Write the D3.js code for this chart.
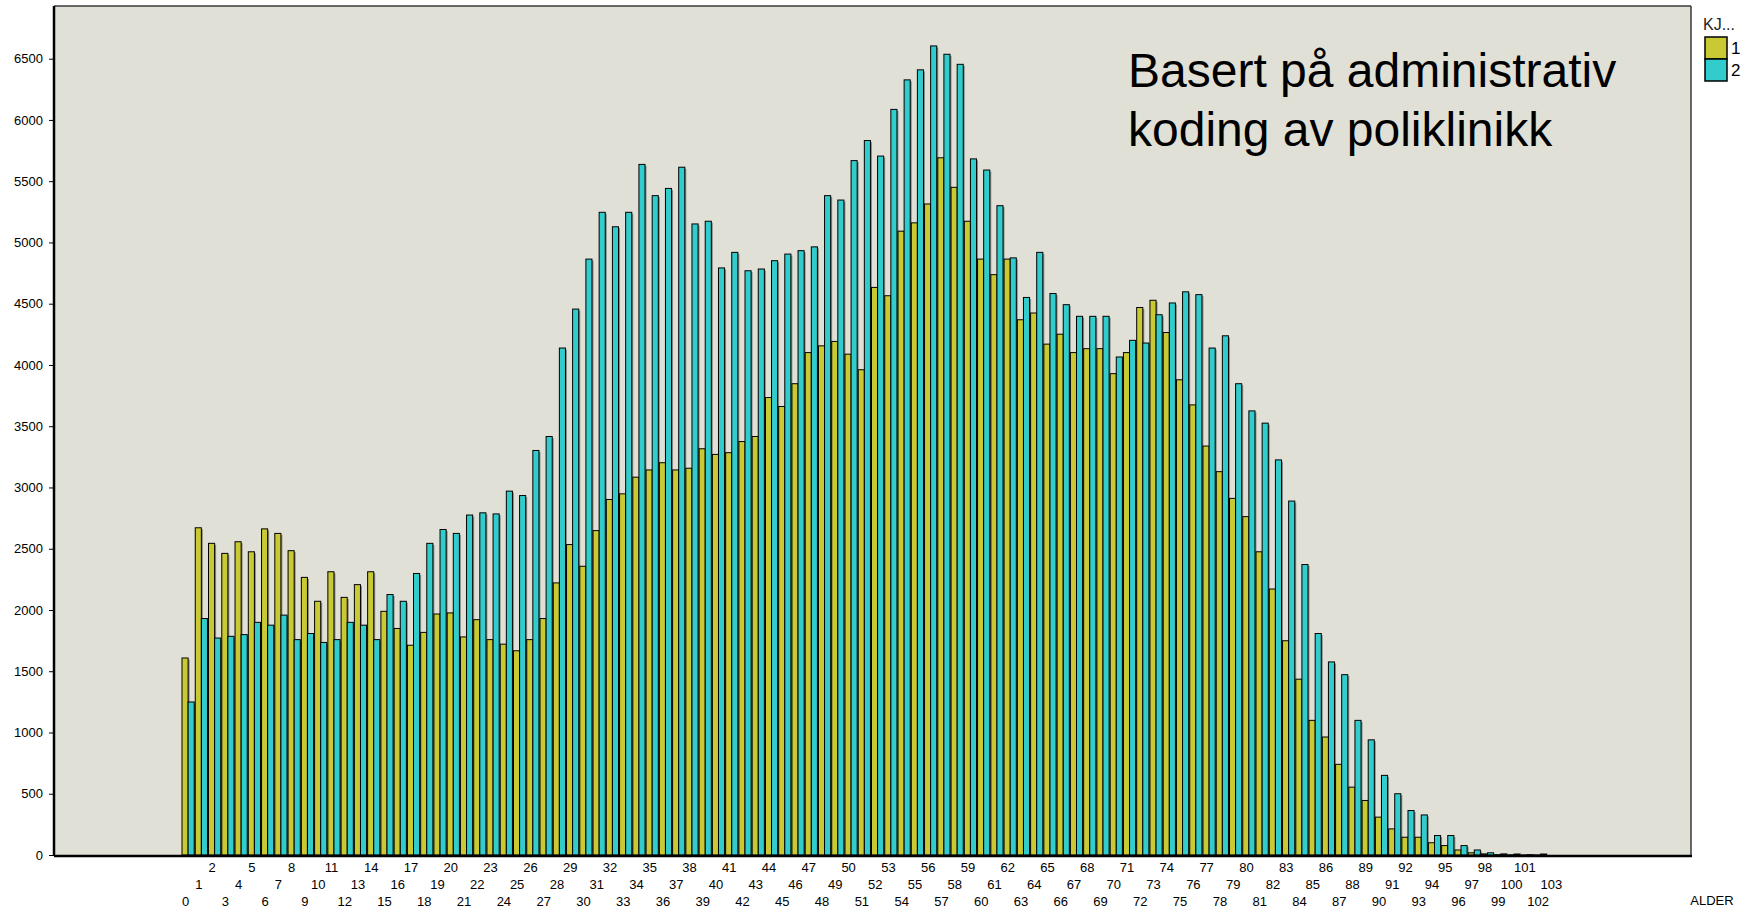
<!DOCTYPE html>
<html>
<head>
<meta charset="utf-8">
<script src="https://cdn.jsdelivr.net/npm/d3@7"></script>
<style>
  html, body { margin: 0; padding: 0; background: #ffffff; }
  svg { display: block; }
  text { font-family: "Liberation Sans", Arial, sans-serif; }
</style>
</head>
<body>
<svg id="chart" width="1751" height="910"></svg>
<script>
// ---- data ----
const ages = d3.range(0, 104);
const seriesNames = ["1", "2"];
const legendTitle = "KJ...";
const xAxisTitle = "ALDER";
const noteLines = ["Basert på administrativ", "koding av poliklinikk"];
const yTicks = [0, 500, 1000, 1500, 2000, 2500, 3000, 3500, 4000, 4500, 5000, 5500, 6000, 6500];
const kj1 = [1608,2671,2544,2462,2557,2475,2662,2625,2484,2266,2071,2312,2103,2207,2312,1989,1849,1712,1817,1967,
  1976,1780,1921,1758,1721,1667,1758,1930,2221,2534,2357,2648,2902,2948,3084,3143,3202,3143,3157,3316,
  3270,3284,3375,3416,3734,3661,3847,4101,4156,4192,4088,3961,4633,4565,5092,5160,5314,5691,5450,5173,
  4864,4737,4864,4369,4424,4170,4251,4101,4133,4133,3929,4101,4469,4528,4265,3879,3674,3338,3129,2911,
  2762,2475,2171,1749,1435,1099,963,740,554,445,309,213,145,145,100,77,41,18,9,3,
  2,1,1,0];
const kj2 = [1249,1930,1771,1785,1799,1899,1876,1958,1758,1808,1735,1758,1899,1876,1758,2126,2071,2298,2544,2657,
  2625,2775,2793,2784,2970,2934,3302,3416,4138,4456,4864,5246,5128,5246,5637,5382,5441,5614,5151,5173,
  4792,4919,4769,4783,4851,4905,4933,4964,5382,5346,5668,5832,5705,6086,6327,6409,6604,6536,6454,5682,
  5591,5300,4874,4551,4919,4583,4492,4397,4397,4397,4065,4201,4179,4410,4506,4597,4574,4138,4238,3847,
  3625,3525,3225,2889,2371,1808,1576,1472,1099,940,650,500,363,327,159,159,77,41,18,9,
  8,3,8,0];
const colors = ["#c9c934", "#33cccc"];

// ---- layout ----
const svg = d3.select("#chart");
const plot = { left: 54, right: 1691, top: 6, bottom: 855 };

const x = d3.scaleBand().domain(ages).range([182, 1561]).paddingInner(0).paddingOuter(0);
const bw = x.bandwidth();
const xs = d3.scaleBand().domain(seriesNames).range([0, bw * 0.92]);
const y = d3.scaleLinear().domain([0, 6930]).range([plot.bottom, plot.top]);

// plot background
svg.append("rect")
  .attr("x", plot.left).attr("y", plot.top)
  .attr("width", plot.right - plot.left).attr("height", plot.bottom - plot.top)
  .attr("fill", "#e0e0d6");

const rows = ages.flatMap(a => [
  { age: a, s: "1", v: kj1[a], c: colors[0] },
  { age: a, s: "2", v: kj2[a], c: colors[1] }
]);

const g = svg.append("g");
// shadows
g.selectAll("rect.sh").data(rows).join("rect")
  .attr("class", "sh")
  .attr("x", d => x(d.age) + xs(d.s) + 1.5)
  .attr("y", d => y(d.v) + 1.5)
  .attr("width", xs.bandwidth())
  .attr("height", d => Math.max(0, y(0) - y(d.v) - 1.5))
  .attr("fill", "#8a8a84");
// bars
g.selectAll("rect.bar").data(rows).join("rect")
  .attr("class", "bar")
  .attr("x", d => x(d.age) + xs(d.s))
  .attr("y", d => y(d.v))
  .attr("width", xs.bandwidth())
  .attr("height", d => y(0) - y(d.v))
  .attr("fill", d => d.c)
  .attr("stroke", "#000")
  .attr("stroke-width", 1);

// frame: top & right thin, left & bottom thick
svg.append("line").attr("x1", plot.left).attr("x2", plot.right).attr("y1", plot.top).attr("y2", plot.top)
  .attr("stroke", "#3a3a3a").attr("stroke-width", 1.5);
svg.append("line").attr("x1", plot.right).attr("x2", plot.right).attr("y1", plot.top).attr("y2", plot.bottom)
  .attr("stroke", "#3a3a3a").attr("stroke-width", 1.5);

// y axis
const yAxis = svg.append("g").attr("transform", `translate(${plot.left},0)`)
  .call(d3.axisLeft(y).tickValues(yTicks).tickSize(5).tickPadding(6).tickFormat(d3.format("d")));
yAxis.select(".domain").remove();
yAxis.selectAll("text").attr("font-size", 13).attr("fill", "#000")
  .attr("font-family", "'Liberation Sans', Arial, sans-serif");
yAxis.selectAll("line").attr("stroke", "#000");

svg.append("line").attr("x1", plot.left).attr("x2", plot.left).attr("y1", plot.top).attr("y2", plot.bottom + 1)
  .attr("stroke", "#000").attr("stroke-width", 2.5);
svg.append("line").attr("x1", plot.left).attr("x2", plot.right + 1).attr("y1", plot.bottom + 1).attr("y2", plot.bottom + 1)
  .attr("stroke", "#000").attr("stroke-width", 2.5);

// x axis labels in three staggered rows
const rowY = [901, 884, 867];
const xAxis = svg.append("g").attr("transform", `translate(-3,0)`)
  .call(d3.axisBottom(x).tickSize(0).tickPadding(0));
xAxis.select(".domain").remove();
xAxis.selectAll(".tick").attr("transform", d => `translate(${x(d) + bw / 2},0)`);
xAxis.selectAll("text")
  .attr("y", d => rowY[d % 3])
  .attr("dy", "0.35em")
  .attr("font-size", 13)
  .attr("fill", "#000")
  .attr("font-family", "'Liberation Sans', Arial, sans-serif");

svg.append("text").attr("x", 1712).attr("y", 900).attr("dy", "0.35em")
  .attr("text-anchor", "middle").attr("font-size", 13).attr("fill", "#000").text(xAxisTitle);

// legend
const lg = svg.append("g");
lg.append("text").attr("x", 1703).attr("y", 24).attr("dy", "0.35em")
  .attr("font-size", 16).attr("fill", "#222").text(legendTitle);
const sq = 22;
seriesNames.forEach((s, i) => {
  lg.append("rect").attr("x", 1705).attr("y", 37 + i * sq).attr("width", sq).attr("height", sq)
    .attr("fill", colors[i]).attr("stroke", "#000").attr("stroke-width", 1.5);
  lg.append("text").attr("x", 1731).attr("y", 48 + i * sq).attr("dy", "0.35em")
    .attr("font-size", 17).attr("fill", "#000").text(s);
});

// annotation
noteLines.forEach((t, i) => {
  svg.append("text").attr("x", 1128).attr("y", 87 + i * 59)
    .attr("font-size", 48).attr("fill", "#000").text(t);
});
</script>
</body>
</html>
